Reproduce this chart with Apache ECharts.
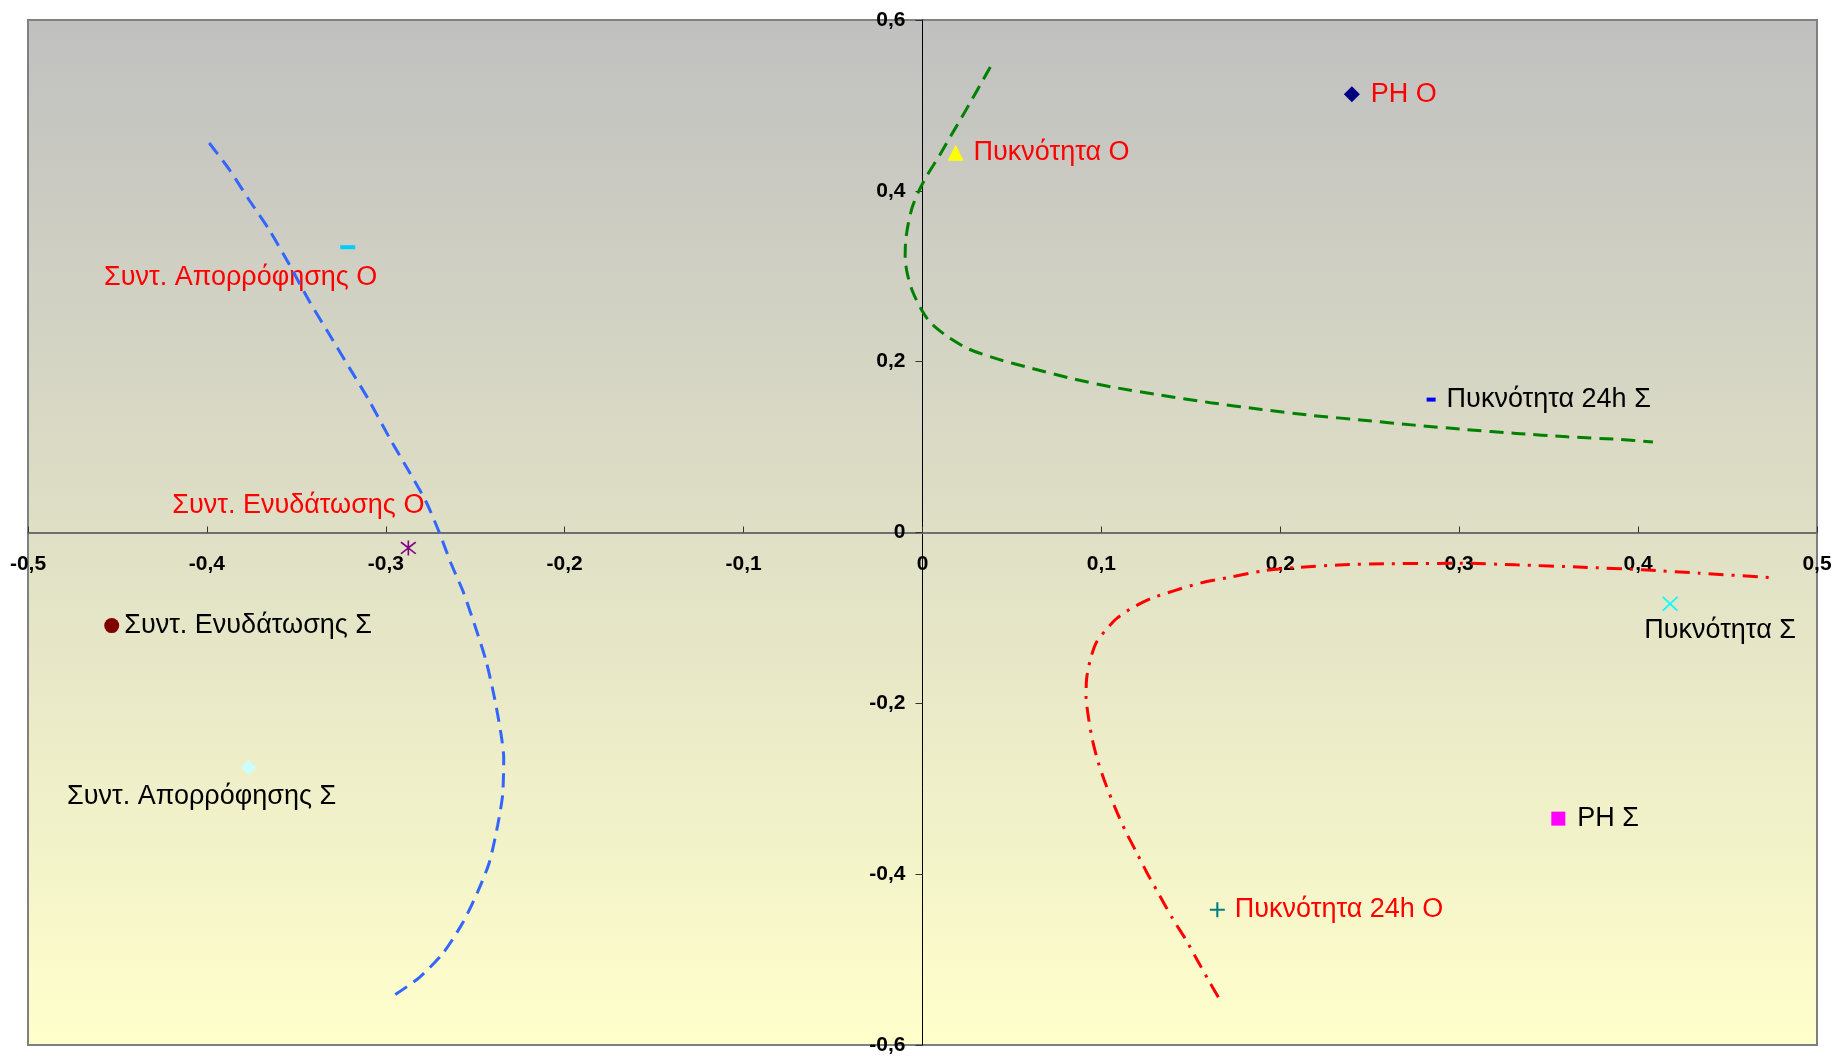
<!DOCTYPE html>
<html><head><meta charset="utf-8">
<script src="https://cdn.jsdelivr.net/npm/echarts@6/dist/echarts.min.js"></script>
<style>html,body{margin:0;padding:0;background:#fff}#c{width:1836px;height:1056px}</style>
</head><body><div id="c"></div>
<script>
// ---- data ----
const pointNames = ['PH O','Πυκνότητα Ο','Πυκνότητα 24h Σ','Συντ. Απορρόφησης Ο','Συντ. Ενυδάτωσης Ο',
  'Συντ. Ενυδάτωσης Σ','Συντ. Απορρόφησης Σ','Πυκνότητα Σ','PH Σ','Πυκνότητα 24h Ο'];
const pointX = [0.240, 0.0185, 0.2843, -0.3213, -0.2874, -0.4532, -0.3767, 0.4179, 0.3554, 0.1648];
const pointY = [0.513, 0.4447, 0.1556, 0.334, -0.018, -0.109, -0.275, -0.0835, -0.335, -0.4417];

const blueCurve = [[-0.3987,0.456],[-0.3875,0.425],[-0.3763,0.389],[-0.3651,0.354],[-0.3540,0.314],
  [-0.3428,0.271],[-0.3316,0.232],[-0.3204,0.193],[-0.3092,0.154],[-0.2980,0.111],[-0.2869,0.071],
  [-0.2775,0.036],[-0.2701,0.0],[-0.2636,-0.036],[-0.2570,-0.068],[-0.2505,-0.107],[-0.2440,-0.150],
  [-0.2393,-0.193],[-0.2356,-0.236],[-0.2341,-0.264],[-0.2347,-0.307],[-0.2375,-0.343],[-0.2421,-0.386],
  [-0.2487,-0.421],[-0.2570,-0.457],[-0.2682,-0.493],[-0.2813,-0.521],[-0.2947,-0.541]];
const greenCurve = [[0.0379,0.545],[0.0328,0.526],[0.0271,0.505],[0.0214,0.484],[0.0157,0.464],
  [0.0094,0.441],[0.0028,0.419],[-0.0020,0.400],[-0.0057,0.381],[-0.0080,0.361],[-0.0094,0.342],
  [-0.0097,0.322],[-0.0085,0.303],[-0.0057,0.283],[-0.0014,0.264],[0.0043,0.246],[0.0142,0.229],
  [0.0256,0.215],[0.0413,0.2035],[0.0613,0.192],[0.0840,0.180],[0.1068,0.170],[0.1325,0.161],
  [0.1610,0.152],[0.1895,0.144],[0.2179,0.137],[0.2464,0.1315],[0.2749,0.1257],[0.3034,0.1206],
  [0.3319,0.116],[0.3604,0.112],[0.3889,0.109],[0.4083,0.106]];
const redCurve = [[0.1654,-0.544],[0.1601,-0.525],[0.1537,-0.501],[0.1473,-0.477],[0.1398,-0.452],
  [0.1323,-0.424],[0.1259,-0.400],[0.1195,-0.374],[0.1131,-0.348],[0.1078,-0.323],[0.1025,-0.295],
  [0.0982,-0.269],[0.0950,-0.243],[0.0928,-0.217],[0.0914,-0.191],[0.0918,-0.170],[0.0939,-0.148],
  [0.0971,-0.129],[0.1025,-0.114],[0.1089,-0.100],[0.1174,-0.088],[0.1281,-0.077],[0.1409,-0.068],
  [0.1558,-0.059],[0.1729,-0.052],[0.1900,-0.045],[0.2092,-0.041],[0.2327,-0.038],[0.2583,-0.0366],
  [0.2882,-0.0362],[0.3,-0.0359],[0.3317,-0.0379],[0.3690,-0.0406],[0.4026,-0.0437],[0.4343,-0.0476],
  [0.4731,-0.0527]];

const xMin = -0.5, xMax = 0.5, xStep = 0.1;
const yMin = -0.6, yMax = 0.6, yStep = 0.2;

// ---- styles ----
const PLUS = 'path://M8.6,0 H11.4 V8.6 H20 V11.4 H11.4 V20 H8.6 V11.4 H0 V8.6 H8.6 Z';
const XMARK = 'path://M0,1.5 L1.5,0 L10,8.5 L18.5,0 L20,1.5 L11.5,10 L20,18.5 L18.5,20 L10,11.5 L1.5,20 L0,18.5 L8.5,10 Z';
const STAR = 'path://M0,3 L1.5,1.5 L10,8.5 L18.5,1.5 L20,3 L11.5,10 L20,17 L18.5,18.5 L10,11.5 L1.5,18.5 L0,17 L8.5,10 Z M9,0 H11 V20 H9 Z';
const RED = '#FF0000', BLACK = '#000000';
const pointStyle = {
  'PH O':               {symbol:'diamond', size:16, color:'#000080', pos:'right', dist:11, lc:RED},
  'Πυκνότητα Ο':        {symbol:'triangle', size:16, color:'#FFFF00', pos:'right', dist:10, lc:RED},
  'Πυκνότητα 24h Σ':    {symbol:'rect', size:[9,4], color:'#0000FF', pos:'right', dist:11, lc:BLACK},
  'Συντ. Απορρόφησης Ο':{symbol:'rect', size:[15,4], color:'#00CCFF', pos:'inside', off:[-107,30], lc:RED},
  'Συντ. Ενυδάτωσης Ο': {symbol:STAR, size:[16,15], color:'#800080', pos:'inside', off:[-110,-42], lc:RED},
  'Συντ. Ενυδάτωσης Σ': {symbol:'circle', size:15, color:'#800000', pos:'right', dist:5, lc:BLACK},
  'Συντ. Απορρόφησης Σ':{symbol:'diamond', size:15, color:'#CCFFFF', pos:'inside', off:[-47,29], lc:BLACK},
  'Πυκνότητα Σ':        {symbol:XMARK, size:[16,15], color:'#00FFFF', pos:'inside', off:[50,27], lc:BLACK},
  'PH Σ':               {symbol:'rect', size:14, color:'#FF00FF', pos:'right', dist:12, lc:BLACK},
  'Πυκνότητα 24h Ο':    {symbol:PLUS, size:15, color:'#008080', pos:'right', dist:10, lc:RED}
};

const fmt = v => (Math.abs(v) < 1e-9 ? '0' : v.toFixed(1).replace('.', ','));
const tickFont = {fontFamily:'"Liberation Sans", Arial, sans-serif', fontWeight:'bold', fontSize:21, color:'#000'};

const series = [];
pointNames.forEach((n, i) => {
  const s = pointStyle[n];
  const label = {show:true, formatter:n, color:s.lc, fontFamily:'"Liberation Sans", Arial, sans-serif', fontSize:27,
    position:s.pos};
  if (s.off) label.offset = s.off;
  if (s.dist !== undefined) label.distance = s.dist;
  series.push({type:'scatter', name:n, data:[[pointX[i], pointY[i]]], symbol:s.symbol,
    symbolSize:s.size, itemStyle:{color:s.color, opacity:1}, label:label, z:3, silent:true});
});
series.push({type:'line', data:blueCurve, showSymbol:false, smooth:0.25, z:4,
  lineStyle:{color:'#3366FF', width:3, type:[14,8]}});
series.push({type:'line', data:greenCurve, showSymbol:false, smooth:0.25, z:4,
  lineStyle:{color:'#008000', width:3, type:[14,8]}});
series.push({type:'line', data:redCurve, showSymbol:false, smooth:0.25, z:4,
  lineStyle:{color:'#FF0000', width:3, type:[15,8,3,8]}});

const chart = echarts.init(document.getElementById('c'), null, {renderer:'canvas'});
const option = {
  animation:false,
  grid:{left:28, right:19, top:20, bottom:11, show:true, borderColor:'#808080', borderWidth:2,
    outerBoundsMode:'none',
    backgroundColor:new echarts.graphic.LinearGradient(0,0,0,1,[{offset:0,color:'#C0C0C0'},{offset:1,color:'#FFFFCC'}])},
  xAxis:{type:'value', min:xMin, max:xMax, interval:xStep, position:'bottom', offset:0,
    axisLine:{onZero:false, lineStyle:{color:'#6e6e6e', width:2}},
    axisTick:{show:true, inside:true, length:6, lineStyle:{color:'#333', width:1}},
    axisLabel:Object.assign({formatter:fmt, margin:21, showMinLabel:true, showMaxLabel:true, hideOverlap:false}, tickFont),
    splitLine:{show:false}},
  yAxis:{type:'value', min:yMin, max:yMax, interval:yStep, position:'left', offset:0,
    axisLine:{onZero:false, lineStyle:{color:'#000', width:1}},
    axisTick:{show:true, inside:false, length:7, lineStyle:{color:'#333', width:1}},
    axisLabel:Object.assign({formatter:fmt, margin:17, showMinLabel:true, showMaxLabel:true, hideOverlap:false}, tickFont),
    splitLine:{show:false}},
  series:series
};
chart.setOption(option);
// move both axes (line, ticks and labels) onto the zero crossing
const rect = chart.getModel().getComponent('grid').coordinateSystem.getRect();
const zero = chart.convertToPixel({gridIndex:0}, [0, 0]);
chart.setOption({
  xAxis:{offset:-((rect.y + rect.height) - zero[1])},
  yAxis:{offset:-(zero[0] - rect.x)}
});
</script></body></html>
